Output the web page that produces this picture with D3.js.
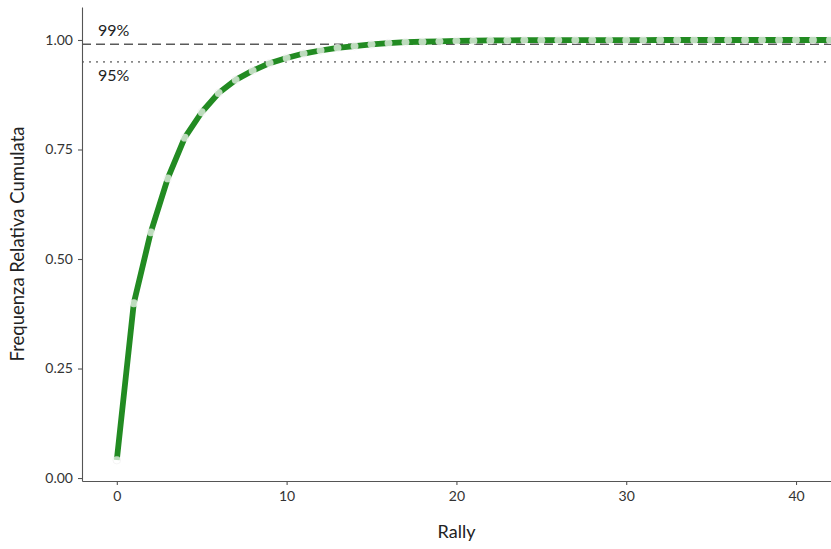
<!DOCTYPE html>
<html>
<head>
<meta charset="utf-8">
<script src="https://cdn.jsdelivr.net/npm/d3@7"></script>
<style>
  html, body { margin: 0; padding: 0; background: #fff; }
  svg { display: block; }
  text { font-family: Lato, "Open Sans", sans-serif; }
</style>
</head>
<body>
<svg id="chart" width="831" height="549"></svg>
<script>
// ---- data ----
const rally = d3.range(0, 44);
const cumFreq = [
  0.041, 0.399, 0.561, 0.684, 0.777, 0.835, 0.879, 0.909, 0.930, 0.947,
  0.959, 0.969, 0.976, 0.982, 0.986, 0.990, 0.993, 0.995, 0.996, 0.997,
  0.998, 0.9985, 0.999, 0.9993, 0.9995, 0.9996, 0.9997, 0.9998, 0.9998, 0.9999,
  0.9999, 0.9999, 1.0, 1.0, 1.0, 1.0, 1.0, 1.0, 1.0, 1.0,
  1.0, 1.0, 1.0, 1.0
];
const xTicks = [0, 10, 20, 30, 40];
const yTicks = [0, 0.25, 0.5, 0.75, 1.0];
const refLines = [
  { value: 0.99, label: "99%", dash: "9,5", pos: "above" },
  { value: 0.95, label: "95%", dash: "2,5", pos: "below" }
];
const xTitle = "Rally";
const yTitle = "Frequenza Relativa Cumulata";

// ---- layout ----
const svg = d3.select("#chart");
const mLeft = 82, mRight = 831, mTop = 7, mBottom = 481;

const x = d3.scaleLinear().domain([-2.05, 42.06]).range([mLeft, mRight]);
const y = d3.scaleLinear().domain([-0.0068, 1.0753]).range([mBottom, mTop]);

svg.append("defs").append("clipPath").attr("id", "clip")
  .append("rect").attr("x", mLeft).attr("y", mTop - 5)
  .attr("width", mRight - mLeft).attr("height", mBottom - mTop + 10);

const plot = svg.append("g").attr("clip-path", "url(#clip)");

// reference lines
refLines.forEach(r => {
  plot.append("line")
    .attr("x1", mLeft).attr("x2", mRight)
    .attr("y1", y(r.value)).attr("y2", y(r.value))
    .attr("stroke", r.pos === "above" ? "#5a5a5a" : "#888")
    .attr("stroke-width", r.pos === "above" ? 1.5 : 1.7)
    .attr("stroke-dasharray", r.dash);
  svg.append("text")
    .attr("x", 98)
    .attr("y", r.pos === "above" ? y(r.value) - 8 : y(r.value) + 19)
    .attr("font-size", 16)
    .attr("fill", "#222")
    .text(r.label);
});

const data = rally.map((r, i) => ({ r, v: cumFreq[i] }));

plot.append("path")
  .datum(data)
  .attr("fill", "none")
  .attr("stroke", "#228B22")
  .attr("stroke-width", 5.8)
  .attr("stroke-linejoin", "round")
  .attr("d", d3.line().x(d => x(d.r)).y(d => y(d.v)));

plot.selectAll("circle.pt")
  .data(data)
  .join("circle")
  .attr("class", "pt")
  .attr("cx", d => x(d.r))
  .attr("cy", d => y(d.v))
  .attr("r", 3.9)
  .attr("fill", "#fff")
  .attr("fill-opacity", 0.7)
  .attr("stroke", "#bbb")
  .attr("stroke-opacity", 0.25)
  .attr("stroke-width", 0.6);

// axes
const axisColor = "#555";
const gx = svg.append("g").attr("transform", `translate(0,${mBottom})`)
  .call(d3.axisBottom(x).tickValues(xTicks).tickSize(4).tickPadding(6).tickSizeOuter(0));
const gy = svg.append("g").attr("transform", `translate(${mLeft},0)`)
  .call(d3.axisLeft(y).tickValues(yTicks).tickFormat(d3.format(".2f")).tickSize(4).tickPadding(5).tickSizeOuter(0));

[gx, gy].forEach(g => {
  g.select(".domain").attr("stroke", axisColor).attr("stroke-width", 1.1);
  g.selectAll(".tick line").attr("stroke", axisColor).attr("stroke-width", 1.1);
  g.selectAll(".tick text").attr("font-size", 14).attr("fill", "#333")
    .attr("font-family", "Lato, 'Open Sans', sans-serif");
});

// titles
svg.append("text")
  .attr("x", (mLeft + mRight) / 2)
  .attr("y", 538)
  .attr("text-anchor", "middle")
  .attr("font-size", 18)
  .attr("fill", "#222")
  .text(xTitle);

svg.append("text")
  .attr("transform", `translate(24,${(mTop + mBottom) / 2}) rotate(-90)`)
  .attr("text-anchor", "middle")
  .attr("font-size", 18.5)
  .attr("fill", "#222")
  .text(yTitle);
</script>
</body>
</html>
